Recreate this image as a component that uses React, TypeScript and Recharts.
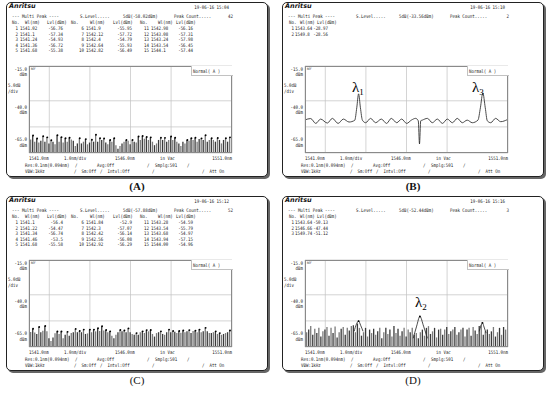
import React from "react";
import { ComposedChart, Bar, Line, Scatter, XAxis, YAxis, CartesianGrid, Cell } from "recharts";

// wavelength axis (nm) and level axis (dBm)
const X_TICKS = [1541, 1542, 1543, 1544, 1545, 1546, 1547, 1548, 1549, 1550, 1551];
const Y_TICKS = [-65, -60, -55, -50, -45, -40, -35, -30, -25, -20, -15];
const WL_START = 1541;
const WL_STEP = 0.1;

// noise floor, one sample every 0.1 nm from 1541.0 to 1551.0
const noiseA = [
  -56.8, -57.3, -54.9, -58.5, -56.7, -59, -58, -55.4, -58.5, -56,
  -59.5, -57.7, -58.5, -60, -54.8, -58.5, -55.9, -59, -56.5, -58.5,
  -56.2, -57.3, -58, -61, -59.5, -56.5, -59.5, -58.5, -57, -60,
  -59, -57.4, -58.5, -54.5, -58.5, -56.5, -57.5, -56.7, -59, -60,
  -57.5, -58.5, -56.5, -60.5, -62.5, -61, -59.5, -58.5, -57.5, -58,
  -60, -57.5, -58.5, -59, -55.5, -57.5, -55.2, -56.8, -55.8, -57.5,
  -56, -58.5, -60.5, -59.5, -57.5, -56.2, -57.5, -56.3, -58.5, -57.5,
  -55.5, -57.5, -56.2, -58.5, -59.5, -61, -58.5, -59.5, -57.5, -58,
  -56.5, -57.5, -56.2, -58.5, -57, -56.6, -57.5, -54.8, -58.5, -57.5,
  -56.5, -57.5, -58.5, -56.4, -57.5, -59.5, -57.5, -56.5, -58.5, -56, -57.5,
];

const noiseC = [
  -57.5, -56.4, -54.5, -56.7, -57.5, -53.5, -56.5, -55.6, -52.9, -56,
  -60, -61.5, -59.5, -57.1, -56.1, -57.5, -56.1, -60, -58, -56.3,
  -58.5, -57, -56.5, -54.6, -56.5, -55.8, -56.5, -55, -57.5, -57.2,
  -55, -56.5, -55, -56, -54.2, -55.8, -53.1, -55.5, -55.2, -56.5,
  -56, -58.5, -60, -58, -56.5, -55.2, -56, -55.5, -56.5, -54.3,
  -56.5, -57.5, -58, -57, -58, -56.5, -56, -57, -55.3, -56,
  -55.2, -57.5, -59, -57, -56.5, -56, -57.5, -58, -56.5, -55,
  -56.5, -55.8, -56.3, -57, -55.8, -56.8, -55.5, -56.5, -56, -55.3,
  -57, -55.8, -55.6, -56.5, -55, -56.5, -56, -54, -56, -57,
  -57, -56.5, -56, -57.5, -57, -58, -57.5, -57, -56.5, -55.5, -57,
];

const noiseD = [
  -54, -56.5, -55, -53, -58, -54.5, -57, -54, -59, -56,
  -55, -53.5, -58.5, -54, -57, -53.2, -59.5, -56.5, -54.5, -53.5,
  -58, -54, -55.5, -53, -52.5, -56.5, -51.5, -54, -58.5, -56.5,
  -54, -59, -55, -57, -54.5, -58, -56, -54, -60, -56.5,
  -54, -57.5, -55, -59, -53, -57, -54.5, -58.5, -56, -54,
  -59, -55, -56.5, -54, -58, -57, -60, -56.5, -55, -58.5,
  -54, -53, -57.5, -56, -54, -59.5, -55, -54.5, -58, -55,
  -53.5, -57.5, -56, -55, -53.5, -58, -56.5, -55, -54, -59,
  -55, -54, -58.5, -53.5, -55.5, -57.5, -53, -52.5, -58, -56,
  -55, -57.5, -56, -53.5, -59, -56.5, -54, -58, -53.5, -55, -57,
];

// smooth trace of panel B
const traceBWl = [
  1541.0, 1541.28, 1541.53, 1541.77, 1542.1, 1542.35, 1542.63, 1542.89, 1543.17, 1543.45,
  1543.55, 1543.64, 1543.73, 1543.83, 1543.99, 1544.23, 1544.48, 1544.76, 1545.02, 1545.25,
  1545.52, 1545.76, 1546.01, 1546.24, 1546.45, 1546.58, 1546.64, 1546.7, 1546.78, 1547.03,
  1547.27, 1547.52, 1547.77, 1548.01, 1548.26, 1548.5, 1548.75, 1548.99, 1549.24, 1549.52,
  1549.64, 1549.76, 1549.88, 1549.98, 1550.15, 1550.39, 1550.64, 1550.97,
];
const traceBLvl = [
  -46, -45.2, -48, -45.5, -47.8, -45.1, -48, -45.5, -47.2, -46.2,
  -39, -31, -39, -46.2, -47.6, -45.1, -47.6, -45.5, -48, -45.1,
  -47.6, -45.5, -48, -46.1, -45.1, -46.5, -59.8, -46.5, -46.1, -45.1,
  -47.6, -45.5, -48, -45.5, -47.6, -45.1, -47.6, -46.1, -47.6, -46.1,
  -39, -30.5, -39, -46.5, -47.6, -45.1, -47, -45.8,
];

// the three peaks of panel D, one trace piece each
const peakTraceDWl = [
  [1543.42, 1543.53, 1543.64, 1543.74, 1543.86],
  [1546.33, 1546.5, 1546.66, 1546.84, 1547.03],
  [1549.58, 1549.66, 1549.74, 1549.82, 1549.92],
];
const peakTraceDLvl = [
  [-56, -52, -50.1, -52.5, -56],
  [-60, -53, -47.4, -53, -60],
  [-56, -53, -51.1, -53.5, -57],
];

// peak tables shown on the screens
const peaksAWl = ["1541.02", "1541.1", "1541.24", "1541.36", "1541.68", "1541.9", "1542.12", "1542.4", "1542.64", "1542.82", "1542.98", "1543.08", "1543.24", "1543.54", "1544.1"];
const peaksALvl = ["-56.76", "-57.34", "-54.93", "-56.72", "-55.38", "-55.95", "-57.72", "-54.79", "-55.93", "-56.49", "-56.16", "-57.31", "-57.98", "-56.45", "-57.44"];
const peaksBWl = ["1543.64", "1549.8"];
const peaksBLvl = ["-28.97", "-28.56"];
const peaksCWl = ["1541.1", "1541.22", "1541.34", "1541.46", "1541.68", "1541.84", "1542.3", "1542.42", "1542.56", "1542.92", "1543.28", "1543.54", "1543.68", "1543.94", "1544.00"];
const peaksCLvl = ["-56.4", "-54.47", "-56.74", "-53.5", "-55.58", "-52.9", "-57.07", "-56.14", "-56.08", "-56.29", "-54.59", "-55.79", "-54.97", "-57.15", "-54.96"];
const peaksDWl = ["1543.64", "1546.66", "1549.74"];
const peaksDLvl = ["-50.13", "-47.44", "-51.12"];

const MONO = "'DejaVu Sans Mono', monospace";
const INK = "#1c1c1c";
const GRID = "#c2c2c2";
const FS = 4.9;

type BarRow = { x: number; r: [number, number] };
type Pt = { x: number; p: number };
type TPt = { x: number; t: number };

const toBars = (lv: number[]): BarRow[] =>
  lv.map((v, i) => ({ x: +(WL_START + i * WL_STEP).toFixed(2), r: [-65, v] }));

// peak search above the screen's S.Level threshold
const findPeaks = (rows: BarRow[], thr: number): Pt[] =>
  rows.flatMap((d, i) => {
    const v = d.r[1];
    const prev = i > 0 ? rows[i - 1].r[1] : -99;
    const next = i < rows.length - 1 ? rows[i + 1].r[1] : -99;
    return v >= thr && v > prev && v >= next ? [{ x: d.x, p: v }] : [];
  });

const barsA = toBars(noiseA);
const barsC = toBars(noiseC);
const barsD = toBars(noiseD);
const traceB = traceBWl.map((x, i) => ({ x, t: traceBLvl[i] }));
const tracesD = peakTraceDWl.map((xs, k) => xs.map((x, i) => ({ x, t: peakTraceDLvl[k][i] })));
const marksD = peaksDWl.map((w, i) => ({ x: Number(w), p: Number(peaksDLvl[i]) }));

function T({ x, y, children, align = "left", size = FS, style }: { x: number; y: number; children: React.ReactNode; align?: "left" | "right" | "center"; size?: number; style?: React.CSSProperties }) {
  const tx = align === "right" ? "translate(-100%,-50%)" : align === "center" ? "translate(-50%,-50%)" : "translate(0,-50%)";
  const origin = align === "right" ? "100% 50%" : align === "center" ? "50% 50%" : "0 50%";
  return (
    <div style={{ position: "absolute", left: x, top: y, transform: `${tx} scaleX(0.84)`, transformOrigin: origin, whiteSpace: "pre", fontSize: size, lineHeight: 1, fontFamily: MONO, color: INK, ...style }}>
      {children}
    </div>
  );
}

const W = 205;
const H = 89;
const M = { top: 1, right: 1, bottom: 1, left: 1 };

// grid + noise bars underneath, traces and peak markers on a second layer
// (kept apart so trace x values don't shrink the bar band size)
function Spectrum({ bars, lines, marks }: { bars?: BarRow[]; lines?: TPt[][]; marks?: Pt[] }) {
  return (
    <div style={{ position: "relative", width: W, height: H }}>
      <div style={{ position: "absolute", left: 0, top: 0 }}>
        <ComposedChart width={W} height={H} data={bars ?? []} margin={M}>
          <CartesianGrid stroke={GRID} strokeWidth={0.7} />
          <XAxis type="number" dataKey="x" domain={[1541, 1551]} ticks={X_TICKS} hide allowDataOverflow />
          <YAxis type="number" domain={[-65, -15]} ticks={Y_TICKS} hide allowDataOverflow />
          {bars && (
            <Bar dataKey="r" barSize={1.3} isAnimationActive={false}>
              {bars.map((_, i) => (
                <Cell key={i} fill={i % 2 ? "#7a7a7a" : "#3a3a3a"} />
              ))}
            </Bar>
          )}
        </ComposedChart>
      </div>
      {(lines || marks) && (
        <div style={{ position: "absolute", left: 0, top: 0 }}>
          <ComposedChart width={W} height={H} data={lines?.[0] ?? marks ?? []} margin={M}>
            <XAxis type="number" dataKey="x" domain={[1541, 1551]} ticks={X_TICKS} hide allowDataOverflow />
            <YAxis type="number" domain={[-65, -15]} ticks={Y_TICKS} hide allowDataOverflow />
            {lines?.map((seg, i) => (
              <Line key={i} data={seg} dataKey="t" type="monotone" stroke="#2a2a2a" strokeWidth={0.85} dot={false} isAnimationActive={false} />
            ))}
            {marks && (
              <Scatter data={marks} dataKey="p" isAnimationActive={false} shape={(p: any) => <circle cx={p.cx} cy={p.cy} r={0.95} fill="#000" />} />
            )}
          </ComposedChart>
        </div>
      )}
    </div>
  );
}

function PeakTable({ wls, lvls }: { wls: string[]; lvls: string[] }) {
  if (wls.length > 5) {
    const noX = [6, 65, 134];
    const wlHead = [19, 84, 152];
    const lvHead = [41, 107, 170];
    const idxR = [12, 78, 143];
    const wlL = [14, 80, 145];
    const lvR = [57, 126, 187];
    return (
      <>
        {[0, 1, 2].map((g) => (
          <React.Fragment key={g}>
            <T x={noX[g]} y={20}>No.</T>
            <T x={wlHead[g]} y={20}>Wl(nm)</T>
            <T x={lvHead[g]} y={20}>Lvl(dBm)</T>
            {[0, 1, 2, 3, 4].map((r) => {
              const k = g * 5 + r;
              const y = 26 + r * 5.5;
              return (
                <React.Fragment key={r}>
                  <T x={idxR[g]} y={y} align="right">{String(k + 1)}</T>
                  <T x={wlL[g]} y={y}>{wls[k]}</T>
                  <T x={lvR[g]} y={y} align="right">{lvls[k]}</T>
                </React.Fragment>
              );
            })}
          </React.Fragment>
        ))}
      </>
    );
  }
  return (
    <>
      <T x={7} y={20}>No.</T>
      <T x={18} y={20}>Wl(nm)</T>
      <T x={35} y={20}>Lvl(dBm)</T>
      {wls.map((w, r) => (
        <React.Fragment key={r}>
          <T x={11.5} y={26 + r * 5.5} align="right">{String(r + 1)}</T>
          <T x={13} y={26 + r * 5.5}>{w}</T>
          <T x={46} y={26 + r * 5.5} align="right">{lvls[r]}</T>
        </React.Fragment>
      ))}
    </>
  );
}

function Panel(props: { left: number; top: number; date: string; sLevel: string; count: string; wls: string[]; lvls: string[]; label: string; bold: boolean; chart: React.ReactNode; extra?: React.ReactNode }) {
  const { left, top } = props;
  return (
    <>
      <div style={{ position: "absolute", left, top, width: 262, height: 175 }}>
        <div style={{ position: "absolute", inset: 0, border: "1px solid #222", borderRadius: 5, boxShadow: "2px 2px 0 #666", background: "#fff" }} />
        <div style={{ position: "absolute", left: 3, top: 1, fontFamily: "'DejaVu Sans'", fontWeight: "bold", fontStyle: "italic", fontSize: 6.5, lineHeight: 1, color: "#111" }}>Anritsu</div>
        <T x={223} y={5} align="right">{props.date}</T>
        <T x={6} y={14}>--- Multi Peak ----</T>
        <T x={74} y={14}>S.Level.....</T>
        <T x={117} y={14}>{props.sLevel}</T>
        <T x={168} y={14}>Peak Count.....</T>
        <T x={227} y={14} align="right">{props.count}</T>
        <PeakTable wls={props.wls} lvls={props.lvls} />

        <div style={{ position: "absolute", left: 22, top: 63 }}>{props.chart}</div>
        <div style={{ position: "absolute", left: 22.6, top: 63.6, width: 203, height: 87, border: "0.8px solid #8a8a8a", boxSizing: "border-box", pointerEvents: "none" }} />
        <div style={{ position: "absolute", left: 184.7, top: 64, width: 41.3, height: 8.7, background: "#fff", borderLeft: `0.7px solid ${GRID}`, borderBottom: `0.7px solid ${GRID}` }} />
        <T x={187} y={68.5}>Normal( A )</T>
        <T x={24.5} y={66.5} size={3}>REF</T>

        <T x={21} y={67} align="right">-15.0</T>
        <T x={21} y={72} align="right">dBm</T>
        <T x={1.5} y={83}>5.0dB</T>
        <T x={1.5} y={89}>/div</T>
        <T x={21} y={104.5} align="right">-40.0</T>
        <T x={21} y={110} align="right">dBm</T>
        <T x={21} y={137} align="right">-65.0</T>
        <T x={21} y={143} align="right">dBm</T>

        <T x={23} y={156}>1541.0nm</T>
        <T x={58} y={156}>1.0nm/div</T>
        <T x={109} y={156}>1546.0nm</T>
        <T x={154} y={156}>in Vac</T>
        <T x={226} y={156} align="right">1551.0nm</T>

        <T x={19} y={163}>Res:0.1nm(0.094nm)</T>
        <T x={69} y={163}>/</T>
        <T x={91} y={163}>Avg:Off</T>
        <T x={141} y={163}>/</T>
        <T x={149} y={163}>Smplg:501</T>
        <T x={181} y={163}>/</T>
        <T x={19} y={168.5}>VBW:1kHz</T>
        <T x={68} y={168.5}>/  Sm:Off</T>
        <T x={94} y={168.5}>/  Intvl:Off</T>
        <T x={146} y={168.5}>/</T>
        <T x={196} y={168.5}>/  Att On</T>
        {props.extra}
      </div>
      <div style={{ position: "absolute", left: left + 131, top: top + 184, transform: "translate(-50%,-50%)", fontFamily: "'Liberation Serif', serif", fontWeight: props.bold ? "bold" : "normal", fontSize: 11, color: "#111" }}>
        {props.label}
      </div>
    </>
  );
}

function Lambda({ x, y, n }: { x: number; y: number; n: string }) {
  return (
    <div style={{ position: "absolute", left: x, top: y, transform: "translate(0,-50%)", fontFamily: "'Liberation Serif', serif", fontSize: 15, lineHeight: 1, color: "#000", whiteSpace: "pre" }}>
      λ<span style={{ fontSize: 9, verticalAlign: "-3px" }}>{n}</span>
    </div>
  );
}

export default function App() {
  return (
    <div style={{ position: "absolute", left: 0, top: 0, width: 550, height: 393, background: "#fff", overflow: "hidden" }}>
      <Panel left={6} top={2} date="19-06-16 15:04" sLevel="5dB(-58.02dBm)" count="42" wls={peaksAWl} lvls={peaksALvl} label="(A)" bold
        chart={<Spectrum bars={barsA} marks={findPeaks(barsA, -58.02)} />} />
      <Panel left={282} top={2} date="19-06-16 15:10" sLevel="5dB(-33.56dBm)" count="2" wls={peaksBWl} lvls={peaksBLvl} label="(B)" bold
        chart={<Spectrum lines={[traceB]} />}
        extra={<><Lambda x={70} y={86} n="1" /><Lambda x={190} y={86} n="3" /></>} />
      <Panel left={6} top={196} date="19-06-16 15:12" sLevel="5dB(-57.88dBm)" count="52" wls={peaksCWl} lvls={peaksCLvl} label="(C)" bold={false}
        chart={<Spectrum bars={barsC} marks={findPeaks(barsC, -57.88)} />} />
      <Panel left={282} top={196} date="19-06-16 15:16" sLevel="5dB(-52.44dBm)" count="3" wls={peaksDWl} lvls={peaksDLvl} label="(D)" bold={false}
        chart={<Spectrum bars={barsD} lines={tracesD} marks={marksD} />}
        extra={<Lambda x={133} y={107} n="2" />} />
    </div>
  );
}
